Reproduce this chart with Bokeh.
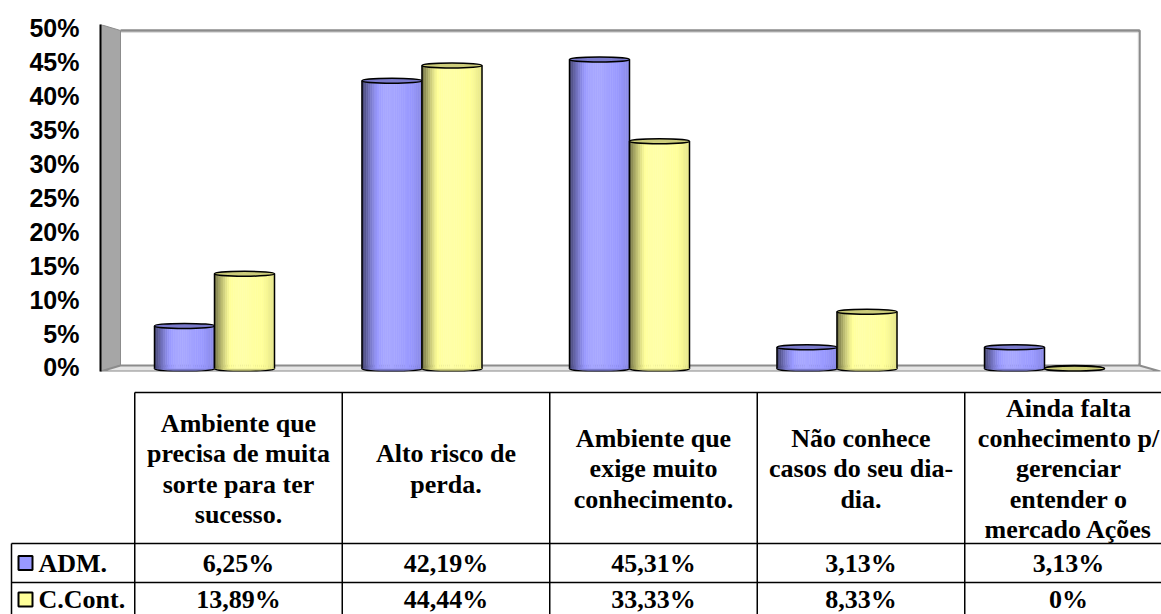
import numpy as np
from bokeh.plotting import figure
from bokeh.models import Range1d, FixedTicker, PrintfTickFormatter, ColumnDataSource
from bokeh.embed import file_html
from bokeh.resources import INLINE
from bokeh.core.properties import value

# ---- data -------------------------------------------------------------
categories = [
    "Ambiente que\nprecisa de muita\nsorte para ter\nsucesso.",
    "Alto risco de\nperda.",
    "Ambiente que\nexige muito\nconhecimento.",
    "Não conhece\ncasos do seu dia-\ndia.",
    "Ainda falta\nconhecimento p/\ngerenciar\nentender o\nmercado Ações",
]
series_names = ["ADM.", "C.Cont."]
adm = [6.25, 42.19, 45.31, 3.13, 3.13]
ccont = [13.89, 44.44, 33.33, 8.33, 0.0]
y_ticks = [0, 5, 10, 15, 20, 25, 30, 35, 40, 45, 50]
series_colors = ["#9999FF", "#FFFF99"]

# ---- layout constants (pixels) ---------------------------------------
W = 1161
TOP_H = 380
BOT_H = 234
FRAME_L = 100
FRAME_T = 24
FRAME_B = 9
GROUP0_PX = 214.0     # first category centre
GROUP_PX = 207.5      # category pitch
BAR_PX = 60.0
PX_PER_PCT = 6.82
ZERO_PX = 368.0       # y pixel of 0 %
DEPTH_X = 20.0
DEPTH_Y = 6.0


def px_to_x(px):
    return (px - GROUP0_PX) / GROUP_PX


bar_w = BAR_PX / GROUP_PX
y_lo = -(TOP_H - FRAME_B - ZERO_PX) / PX_PER_PCT
y_hi = (ZERO_PX - FRAME_T) / PX_PER_PCT
x_lo = px_to_x(FRAME_L)
x_hi = px_to_x(W)
dxd = DEPTH_X / GROUP_PX
dyd = DEPTH_Y / PX_PER_PCT


def hex_rgb(h):
    h = h.lstrip("#")
    return np.array([int(h[i:i + 2], 16) for i in (0, 2, 4)], dtype=float)


def to_hex(c):
    c = np.clip(np.round(c), 0, 255).astype(int)
    return "#%02x%02x%02x" % tuple(c)


def cylinder_shade(base, t):
    """Brightness profile across a lit cylinder (t = 0 left edge, 1 right edge)."""
    if t < 0.42:
        f = 0.42 + 0.70 * np.sin(np.pi / 2 * t / 0.42)
    else:
        f = 1.12 - 0.22 * ((t - 0.42) / 0.58) ** 1.5
    if f <= 1:
        return to_hex(base * f)
    return to_hex(base + (255 - base) * (f - 1) * 1.2)


# ---- chart ------------------------------------------------------------
p = figure(width=W, height=TOP_H, x_range=Range1d(x_lo, x_hi), y_range=Range1d(y_lo, y_hi),
           output_backend="svg", toolbar_location=None, title=None,
           x_axis_location=None, min_border_left=FRAME_L, min_border_right=0,
           min_border_top=FRAME_T, min_border_bottom=FRAME_B)
p.grid.visible = False
p.outline_line_color = None
p.background_fill_color = "white"

ax = p.yaxis[0]
ax.ticker = FixedTicker(ticks=y_ticks)
ax.formatter = PrintfTickFormatter(format="%d%%")
ax.axis_line_color = "black"
ax.axis_line_width = 2
ax.major_tick_line_color = None
ax.minor_tick_line_color = None
ax.major_label_standoff = 15
ax.major_label_text_font = "Liberation Sans"
ax.major_label_text_font_size = "25px"
ax.major_label_text_font_style = "bold"
ax.major_label_text_color = "black"

# walls and floor
back_x = px_to_x(W - 22)
floor_front_x = px_to_x(W - 1)
p.patch([x_lo, x_lo + dxd, x_lo + dxd, x_lo], [y_hi, y_hi - dyd, dyd / 2, y_lo],
        fill_color="#a6a6a6", line_color="#8c8c8c", line_width=1)
p.patch([x_lo + dxd, back_x, floor_front_x, x_lo], [dyd / 2, dyd / 2, y_lo, y_lo],
        fill_color="#e6e6e6", line_color="#8c8c8c", line_width=2)
p.line([x_lo + dxd, back_x, back_x], [y_hi - dyd, y_hi - dyd, dyd / 2],
       line_color="#8c8c8c", line_width=2.5)
p.line([x_lo + dxd + 0.003, back_x - 0.006, back_x - 0.006],
       [y_hi - dyd - 0.3, y_hi - dyd - 0.3, dyd / 2 + 0.3],
       line_color="#dcdcdc", line_width=1)

# cylinders
n_strips = 28
offsets = [-bar_w / 2, bar_w / 2]
for vals, col, off in zip([adm, ccont], series_colors, offsets):
    base = hex_rgb(col)
    centers = np.arange(len(vals)) + off
    # rounded bottom
    p.ellipse(x=centers, y=[0] * len(vals), width=bar_w, height=6, height_units="screen",
              fill_color=to_hex(base * 0.8), line_color="black", line_width=1.5)
    left, right, top, bottom, fills = [], [], [], [], []
    for c, v in zip(centers, vals):
        edges = np.linspace(c - bar_w / 2, c + bar_w / 2, n_strips + 1)
        for k in range(n_strips):
            left.append(edges[k])
            right.append(edges[k + 1])
            top.append(v)
            bottom.append(0)
            fills.append(cylinder_shade(base, (k + 0.5) / n_strips))
    src = ColumnDataSource(dict(left=left, right=right, top=top, bottom=bottom, fill=fills))
    p.quad(left="left", right="right", top="top", bottom="bottom", source=src,
           fill_color="fill", line_color="fill", line_width=0.6)
    p.segment(x0=centers - bar_w / 2, y0=[0] * len(vals), x1=centers - bar_w / 2, y1=vals,
              line_color="black", line_width=1.5)
    p.segment(x0=centers + bar_w / 2, y0=[0] * len(vals), x1=centers + bar_w / 2, y1=vals,
              line_color="black", line_width=1.5)
    p.ellipse(x=centers, y=vals, width=bar_w, height=5, height_units="screen",
              fill_color=to_hex(base * 0.8), line_color="black", line_width=1.5)

# ---- data table -------------------------------------------------------
TBL_TOP = 392
HDR_BOT = 543
ROW_H = 39
TBL_LEFT_PX = 11
TBL_SHIFT_PX = 24.0
TEXT_HALF_H = 15      # keep row labels inside the page

t = figure(width=W, height=BOT_H, x_range=Range1d(px_to_x(0), px_to_x(W)),
           y_range=Range1d(TOP_H + BOT_H, TOP_H), output_backend="svg",
           toolbar_location=None, title=None, x_axis_location=None, y_axis_location=None,
           min_border=0)
t.grid.visible = False
t.outline_line_color = None

n = len(categories)
col_shift = TBL_SHIFT_PX / GROUP_PX
col_edges = np.arange(n + 1) - 0.5 + col_shift
col_centers = np.arange(n) + col_shift
legend_left = px_to_x(TBL_LEFT_PX)
row_edges = [HDR_BOT + ROW_H * k for k in range(len(series_names) + 1)]
row_centers = [min(HDR_BOT + ROW_H * (k + 0.5), TOP_H + BOT_H - TEXT_HALF_H)
               for k in range(len(series_names))]

# grid lines
t.segment(x0=[col_edges[0]], y0=[TBL_TOP], x1=[col_edges[-1]], y1=[TBL_TOP],
          line_color="black", line_width=1.5)
t.segment(x0=[legend_left] * len(row_edges), y0=row_edges,
          x1=[col_edges[-1]] * len(row_edges), y1=row_edges,
          line_color="black", line_width=1.5)
t.segment(x0=col_edges, y0=[TBL_TOP] * len(col_edges), x1=col_edges,
          y1=[row_edges[-1]] * len(col_edges), line_color="black", line_width=1.5)
t.segment(x0=[legend_left], y0=[HDR_BOT], x1=[legend_left], y1=[row_edges[-1]],
          line_color="black", line_width=1.5)

serif = value("Liberation Serif")
t.text(x=col_centers, y=[(TBL_TOP + HDR_BOT) / 2 + 1] * n, text=categories,
       text_align="center", text_baseline="middle", text_font=serif,
       text_font_size="26px", text_font_style="bold", text_line_height=1.05,
       text_color="black")


def fmt(v):
    if v == 0:
        return "0%"
    return ("%.2f" % v).replace(".", ",") + "%"


for vals, name, col, yc in zip([adm, ccont], series_names, series_colors, row_centers):
    t.text(x=col_centers, y=[yc] * n, text=[fmt(v) for v in vals],
           text_align="center", text_baseline="middle", text_font=serif,
           text_font_size="26px", text_font_style="bold", text_color="black")
    t.scatter(x=[px_to_x(25)], y=[yc], marker="square", size=14,
              fill_color=col, line_color="black", line_width=2)
    t.text(x=[px_to_x(38)], y=[yc], text=[name], text_align="left",
           text_baseline="middle", text_font=serif, text_font_size="26px",
           text_font_style="bold", text_color="black")

# two independent roots stacked on the page, so their frames stay unaligned
open("out.html", "w").write(file_html([p, t], INLINE))
